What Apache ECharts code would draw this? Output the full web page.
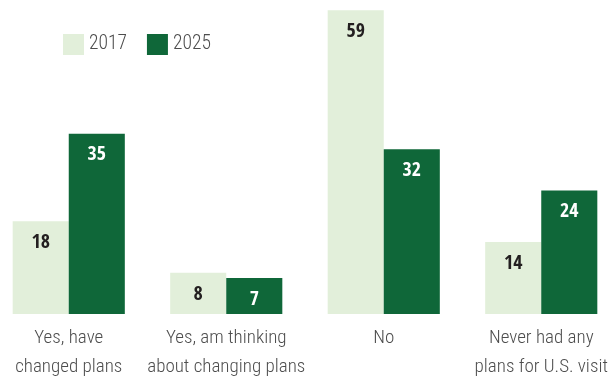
<!DOCTYPE html>
<html>
<head>
<meta charset="utf-8">
<script src="https://cdn.jsdelivr.net/npm/echarts@6/dist/echarts.min.js"></script>
<style>
  html, body { margin: 0; padding: 0; background: #ffffff; }
  #chart { width: 611px; height: 380px; }
</style>
</head>
<body>
<div id="chart"></div>
<script>
// Survey responses: has the respondent changed plans to visit the U.S.?
const categories = [
  'Yes, have\nchanged plans',
  'Yes, am thinking\nabout changing plans',
  'No',
  'Never had any\nplans for U.S. visit'
];
const seriesNames = ['2017', '2025'];
const values2017 = [18, 8, 59, 14];
const values2025 = [35, 7, 32, 24];

const TEXT_FONT = "'Roboto Condensed', 'Liberation Sans Narrow', sans-serif";
const NUM_FONT = "'Open Sans Condensed', 'Roboto Condensed', sans-serif";
const LIGHT = '#e2efda';
const DARK = '#0f6739';

const chart = echarts.init(document.getElementById('chart'), null, { renderer: 'canvas' });

function barSeries(name, data, color, labelColor) {
  return {
    name: name,
    type: 'bar',
    data: data,
    barGap: '0%',
    barCategoryGap: '28.8%',
    itemStyle: { color: color },
    label: {
      show: true,
      position: 'insideTop',
      distance: 11.5,
      color: labelColor,
      fontFamily: NUM_FONT,
      fontWeight: 'bold',
      fontSize: 20
    },
    emphasis: { disabled: true },
    animation: false
  };
}

chart.setOption({
  backgroundColor: '#ffffff',
  animation: false,
  legend: {
    data: seriesNames,
    left: 58,
    top: 29,
    itemWidth: 21,
    itemHeight: 21,
    itemGap: 20,
    icon: 'rect',
    textStyle: { color: '#4d4d4d', fontFamily: TEXT_FONT, fontWeight: 300, fontSize: 19.5 }
  },
  grid: { left: -10, right: -9, top: 5, bottom: 66, outerBoundsMode: 'none' },
  xAxis: {
    type: 'category',
    data: categories,
    axisLine: { show: false },
    axisTick: { show: false },
    axisLabel: {
      color: '#4d4d4d',
      fontFamily: TEXT_FONT,
      fontWeight: 300,
      fontSize: 19,
      lineHeight: 29,
      margin: 10,
      interval: 0
    }
  },
  yAxis: {
    type: 'value',
    min: 0,
    max: 60,
    show: false,
    splitLine: { show: false }
  },
  series: [
    barSeries(seriesNames[0], values2017, LIGHT, '#231f20'),
    barSeries(seriesNames[1], values2025, DARK, '#ffffff')
  ]
});
</script>
</body>
</html>
